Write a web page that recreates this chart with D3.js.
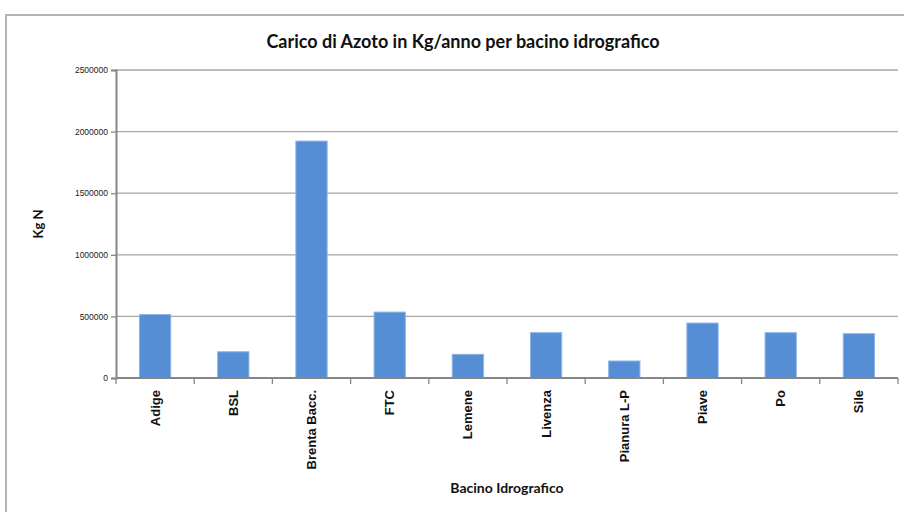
<!DOCTYPE html>
<html>
<head>
<meta charset="utf-8">
<script src="https://cdn.jsdelivr.net/npm/d3@7"></script>
<style>
  html, body { margin: 0; padding: 0; background: #fff; }
  svg { display: block; }
</style>
</head>
<body>
<svg id="chart" width="904" height="512"></svg>
<script>
// Nitrogen load per river basin (kg N / year)
const basins = ["Adige", "BSL", "Brenta Bacc.", "FTC", "Lemene", "Livenza", "Pianura L-P", "Piave", "Po", "Sile"];
const loads = [515000, 213000, 1923000, 535000, 192000, 368000, 138000, 446000, 368000, 360000];
const yTicks = [0, 500000, 1000000, 1500000, 2000000, 2500000];

const titleText = "Carico di Azoto in Kg/anno per bacino idrografico";
const xTitle = "Bacino Idrografico";
const yTitle = "Kg N";

const svg = d3.select("#chart");
const W = 904, H = 512;
const plot = { left: 116, right: 898, top: 70, bottom: 378 };

// Outer chart frame (continues past the right and bottom edges)
svg.append("rect")
  .attr("x", 6).attr("y", 15)
  .attr("width", W + 10).attr("height", H + 10)
  .attr("fill", "#fff")
  .attr("stroke", "#b3b3b3")
  .attr("stroke-width", 2);

const x = d3.scaleBand()
  .domain(basins)
  .range([plot.left, plot.right])
  .paddingInner(0.6)
  .paddingOuter(0.3);

const xGroup = d3.scaleBand().domain(basins).range([plot.left, plot.right]);

const y = d3.scaleLinear()
  .domain([0, 2500000])
  .range([plot.bottom, plot.top]);

// Horizontal gridlines
svg.append("g")
  .selectAll("line")
  .data(yTicks.filter(t => t > 0))
  .join("line")
  .attr("x1", plot.left).attr("x2", plot.right)
  .attr("y1", d => y(d)).attr("y2", d => y(d))
  .attr("stroke", "#a6a6a6")
  .attr("stroke-width", 1.3);

// Bars
svg.append("g")
  .selectAll("rect")
  .data(basins)
  .join("rect")
  .attr("x", d => x(d))
  .attr("y", (d, i) => y(loads[i]))
  .attr("width", x.bandwidth())
  .attr("height", (d, i) => y(0) - y(loads[i]))
  .attr("fill", "#558ed5")
  .attr("stroke", "#8fb4e6")
  .attr("stroke-width", 1);

// Y axis
const yAxis = d3.axisLeft(y)
  .tickValues(yTicks)
  .tickFormat(d3.format("d"))
  .tickSize(5)
  .tickPadding(3);

const gy = svg.append("g")
  .attr("transform", `translate(${plot.left},0)`)
  .call(yAxis);
gy.select(".domain").attr("stroke", "#868686").attr("stroke-width", 2);
gy.selectAll(".tick line").attr("stroke", "#868686").attr("stroke-width", 1.3);
gy.selectAll(".tick text")
  .attr("font-family", "Liberation Sans, Arial, sans-serif")
  .attr("font-size", "8.5px")
  .attr("fill", "#1a1a1a");

// X axis: ticks on category boundaries
const gx = svg.append("g")
  .attr("transform", `translate(0,${plot.bottom})`);
gx.append("line")
  .attr("x1", plot.left).attr("x2", plot.right)
  .attr("stroke", "#868686").attr("stroke-width", 2);
const boundaries = basins.map(b => xGroup(b)).concat([plot.right]);
gx.selectAll("line.tick")
  .data(boundaries)
  .join("line")
  .attr("class", "tick")
  .attr("x1", d => d).attr("x2", d => d)
  .attr("y1", 0).attr("y2", 6)
  .attr("stroke", "#868686").attr("stroke-width", 1.3);

// Rotated category labels
gx.selectAll("text")
  .data(basins)
  .join("text")
  .attr("transform", d => `translate(${xGroup(d) + xGroup.bandwidth() / 2 + 4.5},12) rotate(-90)`)
  .attr("text-anchor", "end")
  .attr("font-family", "Liberation Sans, Arial, sans-serif")
  .attr("font-weight", "bold")
  .attr("font-size", "13px")
  .attr("fill", "#111")
  .text(d => d);

// Title
svg.append("text")
  .attr("x", 463).attr("y", 48)
  .attr("text-anchor", "middle")
  .attr("font-family", "Lato, sans-serif")
  .attr("font-weight", "bold")
  .attr("font-size", "18px")
  .attr("fill", "#111")
  .text(titleText);

// Axis titles
svg.append("text")
  .attr("x", 507).attr("y", 493)
  .attr("text-anchor", "middle")
  .attr("font-family", "Lato, sans-serif")
  .attr("font-weight", "bold")
  .attr("font-size", "14px")
  .attr("fill", "#111")
  .text(xTitle);

svg.append("text")
  .attr("transform", "translate(43,224) rotate(-90)")
  .attr("text-anchor", "middle")
  .attr("font-family", "Lato, sans-serif")
  .attr("font-weight", "bold")
  .attr("font-size", "13px")
  .attr("fill", "#111")
  .text(yTitle);
</script>
</body>
</html>
